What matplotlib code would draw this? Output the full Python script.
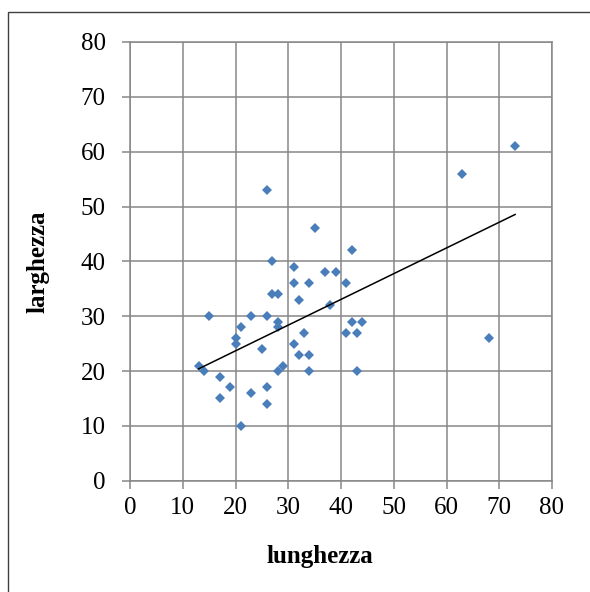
import numpy as np
import matplotlib.pyplot as plt
from matplotlib.patches import Rectangle

# lunghezza / larghezza
lunghezza = [26, 35, 42, 27, 31, 37, 39, 31, 34, 41, 27, 28, 32, 38, 15, 23, 26, 28, 28, 42, 44,
             21, 33, 41, 43, 20, 20, 31, 25, 32, 34, 13, 14, 29, 28, 34, 43, 17, 19, 26, 23, 17,
             26, 21, 63, 68, 73]
larghezza = [53, 46, 42, 40, 39, 38, 38, 36, 36, 36, 34, 34, 33, 32, 30, 30, 30, 29, 28, 29, 29,
             28, 27, 27, 27, 26, 25, 25, 24, 23, 23, 21, 20, 21, 20, 20, 20, 19, 17, 17, 16, 15,
             14, 10, 56, 26, 61]
ticks = [0, 10, 20, 30, 40, 50, 60, 70, 80]

plt.rcParams['font.family'] = ['Liberation Serif', 'DejaVu Serif']
grigio = '#878787'

fig = plt.figure(figsize=(5.90, 5.92), dpi=100)
ax = fig.add_axes([130/590, 1-480.7/592, 422/590, 438.7/592])

x = np.array(lunghezza, dtype=float)
y = np.array(larghezza, dtype=float)
a, b = np.polyfit(x, y, 1)
xs = np.array([x.min(), x.max()])
ax.plot(x, y, 'D', color='#4a7ebb', markersize=5.2, markeredgewidth=0, zorder=3)
ax.plot(xs, a*xs + b, color='black', lw=1.1, zorder=4)

ax.set_xlim(0, 80)
ax.set_ylim(0, 80)
ax.set_xticks(ticks)
ax.set_yticks(ticks)
ax.grid(True, color=grigio, lw=1.1)
ax.set_axisbelow(True)
for s in ax.spines.values():
    s.set_color(grigio)
    s.set_linewidth(1.1)
ax.tick_params(direction='out', length=5.5, width=1.1, color=grigio, labelsize=18, pad=6)
ax.tick_params(axis='y', pad=12)

fig.text(320/590, 1-557/592, 'lunghezza', fontsize=18, fontweight='bold', ha='center', va='center')
fig.text(38/590, 1-262/592, 'larghezza', fontsize=18, fontweight='bold', ha='center', va='center',
         rotation=90)

# cornice esterna
fig.patches.append(Rectangle((8/590, -0.1), 1.2, 1-12/592+0.1, transform=fig.transFigure,
                             fill=False, edgecolor='#404040', lw=1.0))

fig.savefig('out.png', dpi=100)
